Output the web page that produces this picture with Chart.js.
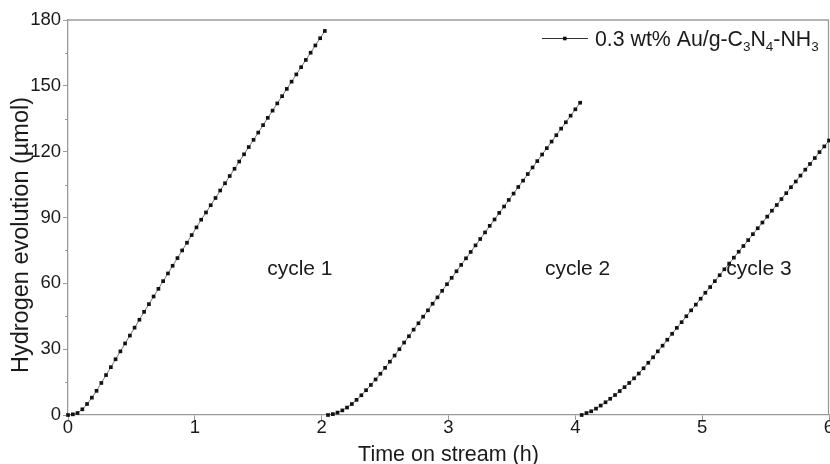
<!DOCTYPE html>
<html>
<head>
<meta charset="utf-8">
<script src="https://cdn.jsdelivr.net/npm/chart.js@4.4.1/dist/chart.umd.min.js"></script>
<style>
  html, body { margin: 0; padding: 0; background: #fff; }
  #wrap { width: 830px; height: 464px; }
</style>
</head>
<body>
<div id="wrap"><canvas id="h2Chart" width="830" height="464"></canvas></div>
<script>
// time on stream (h) and hydrogen evolved (µmol)
const time1 = [0, 0.038, 0.075, 0.113, 0.15, 0.188, 0.225, 0.263, 0.3, 0.338,
  0.375, 0.413, 0.45, 0.488, 0.525, 0.563, 0.6, 0.638, 0.675, 0.713,
  0.75, 0.788, 0.825, 0.863, 0.9, 0.938, 0.975, 1.013, 1.05, 1.088,
  1.125, 1.163, 1.2, 1.238, 1.275, 1.313, 1.35, 1.388, 1.425, 1.463,
  1.5, 1.538, 1.575, 1.613, 1.65, 1.688, 1.725, 1.763, 1.8, 1.838,
  1.875, 1.913, 1.95, 1.988, 2.025];
const h2Cycle1 = [0, 0.3, 0.9, 2.6, 5.0, 7.9, 11.0, 14.6, 18.2, 21.8,
  25.4, 29.0, 32.6, 36.2, 39.8, 43.4, 47.0, 50.5, 54.0, 57.5,
  61.0, 64.5, 68.0, 71.5, 75.0, 78.5, 82.0, 85.5, 89.0, 92.3,
  95.6, 98.9, 102.3, 105.6, 108.9, 112.2, 115.5, 118.8, 122.1, 125.4,
  128.7, 132.1, 135.4, 138.7, 142.0, 145.3, 148.6, 151.9, 155.2, 158.5,
  161.8, 165.1, 168.4, 171.7, 175.0];

const time2 = [2.05, 2.088, 2.125, 2.163, 2.2, 2.238, 2.275, 2.313, 2.35, 2.388,
  2.425, 2.463, 2.5, 2.538, 2.575, 2.613, 2.65, 2.688, 2.725, 2.763,
  2.8, 2.838, 2.875, 2.913, 2.95, 2.988, 3.025, 3.063, 3.1, 3.138,
  3.175, 3.213, 3.25, 3.288, 3.325, 3.363, 3.4, 3.438, 3.475, 3.513,
  3.55, 3.588, 3.625, 3.663, 3.7, 3.738, 3.775, 3.813, 3.85, 3.888,
  3.925, 3.963, 4.0, 4.038];
const h2Cycle2 = [0, 0.4, 1.1, 2.1, 3.4, 5.0, 6.9, 9.0, 11.3, 13.7,
  16.2, 18.8, 21.5, 24.3, 27.1, 30.0, 33.0, 35.9, 38.9, 41.8,
  44.8, 47.7, 50.7, 53.6, 56.6, 59.6, 62.5, 65.5, 68.4, 71.4,
  74.3, 77.3, 80.2, 83.2, 86.2, 89.1, 92.1, 95.0, 98.0, 100.9,
  103.9, 106.8, 109.8, 112.8, 115.7, 118.7, 121.6, 124.6, 127.5, 130.5,
  133.4, 136.4, 139.3, 142.3];

const time3 = [4.05, 4.088, 4.125, 4.163, 4.2, 4.238, 4.275, 4.313, 4.35, 4.388,
  4.425, 4.463, 4.5, 4.538, 4.575, 4.613, 4.65, 4.688, 4.725, 4.763,
  4.8, 4.838, 4.875, 4.913, 4.95, 4.988, 5.025, 5.063, 5.1, 5.138,
  5.175, 5.213, 5.25, 5.288, 5.325, 5.363, 5.4, 5.438, 5.475, 5.513,
  5.55, 5.588, 5.625, 5.663, 5.7, 5.738, 5.775, 5.813, 5.85, 5.888,
  5.925, 5.963, 6.0];
const h2Cycle3 = [0, 0.9, 1.7, 2.9, 4.3, 5.8, 7.4, 9.1, 10.9, 12.7,
  14.6, 16.7, 18.9, 21.3, 23.8, 26.3, 29.0, 31.6, 34.3, 37.0,
  39.7, 42.3, 45.0, 47.7, 50.3, 53.0, 55.7, 58.3, 61.0, 63.7,
  66.4, 69.0, 71.7, 74.4, 77.0, 79.7, 82.4, 85.1, 87.7, 90.4,
  93.1, 95.7, 98.4, 101.1, 103.8, 106.4, 109.1, 111.8, 114.4, 117.1,
  119.8, 122.4, 125.1];

const cycleNames = ['cycle 1', 'cycle 2', 'cycle 3'];
const cycleLabelX = [1.57, 3.76, 5.19];
const cycleLabelY = 64;

const xTicks = [0, 1, 2, 3, 4, 5, 6];
const yTicks = [0, 30, 60, 90, 120, 150, 180];
const yMinor = [15, 45, 75, 105, 135, 165];

const FONT = '"Liberation Sans", Arial, sans-serif';
const AXIS_GREY = '#9a9a9a';

Chart.defaults.font.family = FONT;
Chart.defaults.color = '#1a1a1a';

function toPoints(t, v) {
  return t.map((x, i) => ({ x: x, y: v[i] }));
}

const cycles = [[time1, h2Cycle1], [time2, h2Cycle2], [time3, h2Cycle3]];
const datasets = cycles.map((c, k) => ({
  label: cycleNames[k],
  data: toPoints(c[0], c[1]),
  borderColor: '#555',
  borderWidth: 0.8,
  pointStyle: 'rect',
  pointRadius: 2.6,
  pointBackgroundColor: '#111',
  pointBorderWidth: 0,
  tension: 0,
  clip: false
}));

// frame (top/right) and minor ticks on y
const framePlugin = {
  id: 'framePlugin',
  beforeDatasetsDraw(chart) {
    const { ctx, chartArea: a, scales: { y } } = chart;
    ctx.save();
    ctx.strokeStyle = AXIS_GREY;
    ctx.lineWidth = 1.3;
    ctx.beginPath();
    ctx.moveTo(a.left, a.top);
    ctx.lineTo(a.right - 0.5, a.top);
    ctx.lineTo(a.right - 0.5, a.bottom);
    ctx.stroke();
    ctx.lineWidth = 1;
    ctx.beginPath();
    yMinor.forEach(v => {
      const py = Math.round(y.getPixelForValue(v)) + 0.5;
      ctx.moveTo(a.left - 3, py);
      ctx.lineTo(a.left, py);
    });
    ctx.stroke();
    ctx.restore();
  }
};

// legend, y title and cycle labels
const textPlugin = {
  id: 'textPlugin',
  afterDraw(chart) {
    const { ctx, chartArea: a, scales: { x, y } } = chart;
    ctx.save();

    // cycle labels
    ctx.fillStyle = '#1a1a1a';
    ctx.font = '21px ' + FONT;
    ctx.textAlign = 'left';
    ctx.textBaseline = 'alphabetic';
    cycleNames.forEach((name, i) => {
      ctx.fillText(name, x.getPixelForValue(cycleLabelX[i]), y.getPixelForValue(cycleLabelY));
    });

    // y axis title
    ctx.save();
    ctx.translate(22, 235);
    ctx.rotate(-Math.PI / 2);
    ctx.textAlign = 'center';
    ctx.textBaseline = 'middle';
    ctx.font = '23.5px ' + FONT;
    ctx.fillText('Hydrogen evolution (\u00b5mol)', 0, 0);
    ctx.restore();

    // legend: line with square marker + formula with subscripts
    const lx = a.right - 287, ly = a.top + 18.5;
    ctx.strokeStyle = '#333';
    ctx.lineWidth = 1;
    ctx.beginPath();
    ctx.moveTo(lx, ly);
    ctx.lineTo(lx + 46, ly);
    ctx.stroke();
    ctx.fillStyle = '#111';
    ctx.fillRect(lx + 21, ly - 1.8, 3.6, 3.6);

    const parts = [['0.3 wt% Au/g-C', false], ['3', true], ['N', false], ['4', true], ['-NH', false], ['3', true]];
    let tx = lx + 53;
    const base = a.top + 26;
    ctx.fillStyle = '#1a1a1a';
    ctx.textAlign = 'left';
    ctx.textBaseline = 'alphabetic';
    parts.forEach(([s, sub]) => {
      ctx.font = (sub ? '13.5px ' : '21.3px ') + FONT;
      ctx.fillText(s, tx, sub ? base + 5 : base);
      tx += ctx.measureText(s).width;
    });
    ctx.restore();
  }
};

new Chart(document.getElementById('h2Chart').getContext('2d'), {
  type: 'line',
  data: { datasets: datasets },
  options: {
    responsive: false,
    animation: false,
    layout: { autoPadding: false, padding: { top: 20, right: 1, left: 0, bottom: 0 } },
    plugins: {
      legend: { display: false },
      tooltip: { enabled: false }
    },
    scales: {
      x: {
        type: 'linear',
        min: 0,
        max: 6,
        afterBuildTicks(scale) { scale.ticks = xTicks.map(v => ({ value: v })); },
        afterFit(scale) {
          scale.height = 49;
          scale.paddingLeft = 0;
          scale.paddingRight = 0;
        },
        ticks: { font: { size: 18.5 }, padding: -3, color: '#1a1a1a' },
        grid: { drawOnChartArea: false, tickLength: 5, color: AXIS_GREY },
        border: { color: AXIS_GREY, width: 1.3 },
        title: { display: true, text: 'Time on stream (h)', font: { size: 21.5 }, padding: { top: 0, bottom: -4 } }
      },
      y: {
        min: 0,
        max: 180,
        afterBuildTicks(scale) { scale.ticks = yTicks.map(v => ({ value: v })); },
        afterFit(scale) { scale.width = 68; },
        ticks: { font: { size: 18.5 }, padding: 2, color: '#1a1a1a' },
        grid: { drawOnChartArea: false, tickLength: 5, color: AXIS_GREY },
        border: { color: AXIS_GREY, width: 1.3 }
      }
    }
  },
  plugins: [framePlugin, textPlugin]
});
</script>
</body>
</html>
